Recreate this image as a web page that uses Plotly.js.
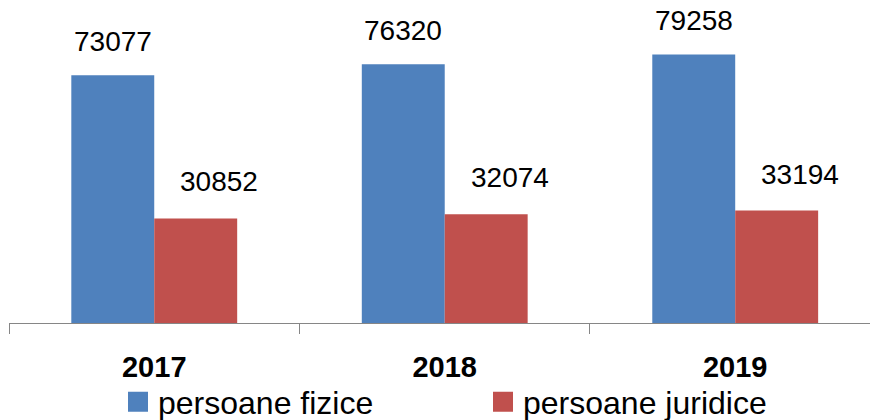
<!DOCTYPE html>
<html>
<head>
<meta charset="utf-8">
<script src="https://cdn.plot.ly/plotly-3.0.1.min.js"></script>
<style>
html,body{margin:0;padding:0;background:#fff;}
#chart{width:870px;height:420px;}
</style>
</head>
<body>
<div id="chart"></div>
<script>
const years = ['2017', '2018', '2019'];
const fizice = [73077, 76320, 79258];
const juridice = [30852, 32074, 33194];
const seriesNames = ['persoane fizice', 'persoane juridice'];
const colors = ['#4F81BD', '#C0504D'];

const labelFont = {family: 'Liberation Sans, Arial, sans-serif', size: 28, color: '#000000'};

const traces = [
  {type: 'bar', x: years, y: fizice, name: seriesNames[0], marker: {color: colors[0]}, legend: 'legend', hoverinfo: 'none'},
  {type: 'bar', x: years, y: juridice, name: seriesNames[1], marker: {color: colors[1]}, legend: 'legend2', hoverinfo: 'none'}
];

const annotations = [];
years.forEach((yr, i) => {
  annotations.push({xref: 'x', yref: 'y', x: i, y: fizice[i], text: String(fizice[i]), showarrow: false,
    xanchor: 'center', yanchor: 'bottom', xshift: -41.5, yshift: 16, font: Object.assign({}, labelFont)});
  annotations.push({xref: 'x', yref: 'y', x: i, y: juridice[i], text: String(juridice[i]), showarrow: false,
    xanchor: 'center', yanchor: 'bottom', xshift: 65, yshift: 19, font: Object.assign({}, labelFont)});
});

const legendFont = {family: 'Liberation Sans, Arial, sans-serif', size: 32, color: '#000'};

const layout = {
  width: 870, height: 420,
  margin: {l: 9, r: 0, t: 18, b: 97},
  paper_bgcolor: '#fff', plot_bgcolor: '#fff',
  barmode: 'group', bargap: 0.429, bargroupgap: 0,
  xaxis: {
    type: 'category', range: [-0.5, 2.464],
    showline: true, linecolor: '#868686', linewidth: 1,
    ticks: 'outside', tickson: 'boundaries', ticklen: 10, tickcolor: '#868686', tickwidth: 1,
    tickfont: {family: 'Liberation Sans, Arial, sans-serif', size: 29, color: '#000', weight: 'bold'},
    ticklabelstandoff: 18,
    showgrid: false, zeroline: false, fixedrange: true
  },
  yaxis: {
    range: [0, 90000], showticklabels: false, showgrid: false, zeroline: false,
    showline: false, ticks: '', fixedrange: true
  },
  showlegend: true,
  legend: {xref: 'container', yref: 'container', x: 118/870, y: 1 - 402/420, xanchor: 'left', yanchor: 'middle',
    orientation: 'h', font: legendFont, bgcolor: 'rgba(0,0,0,0)'},
  legend2: {xref: 'container', yref: 'container', x: 483/870, y: 1 - 402/420, xanchor: 'left', yanchor: 'middle',
    orientation: 'h', font: legendFont, bgcolor: 'rgba(0,0,0,0)'},
  annotations: annotations
};

Plotly.newPlot('chart', traces, layout, {displayModeBar: false}).then(function(gd){
  gd.querySelectorAll('.legendpoints path').forEach(function(p){
    p.setAttribute('d', 'M10,10H-10V-10H10Z');
  });
});
</script>
</body>
</html>
